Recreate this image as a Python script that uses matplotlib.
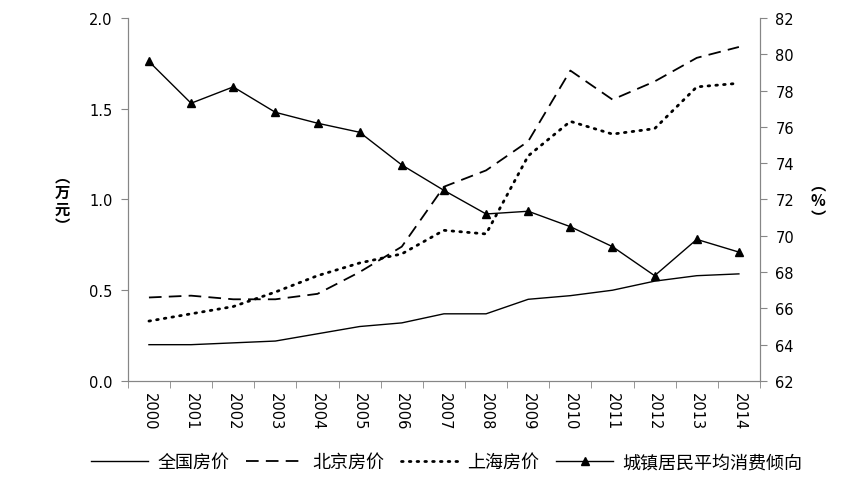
import matplotlib
matplotlib.use('Agg')
import matplotlib.pyplot as plt
import numpy as np

plt.rcParams['font.family'] = ['DejaVu Sans', 'Noto Sans CJK SC']

years = ['2000', '2001', '2002', '2003', '2004', '2005', '2006', '2007',
         '2008', '2009', '2010', '2011', '2012', '2013', '2014']
# house prices, 10k yuan / m2
national = [0.20, 0.20, 0.21, 0.22, 0.26, 0.30, 0.32, 0.37, 0.37, 0.45, 0.47, 0.50, 0.55, 0.58, 0.59]
beijing = [0.46, 0.47, 0.45, 0.45, 0.48, 0.60, 0.74, 1.07, 1.16, 1.32, 1.71, 1.55, 1.65, 1.78, 1.84]
shanghai = [0.33, 0.37, 0.41, 0.49, 0.58, 0.65, 0.70, 0.83, 0.81, 1.24, 1.43, 1.36, 1.39, 1.62, 1.64]
# urban average propensity to consume, %
propensity = [79.6, 77.3, 78.2, 76.8, 76.2, 75.7, 73.9, 72.5, 71.2, 71.35, 70.5, 69.4, 67.8, 69.8, 69.1]

names = ['全国房价', '北京房价', '上海房价', '城镇居民平均消费倾向']
cjk = ['Noto Sans CJK SC', 'DejaVu Sans']

x = np.arange(len(years))
grey = '#868686'

fig = plt.figure(figsize=(8.64, 4.85), dpi=100)
ax = fig.add_axes([0.148, 0.2124, 0.7316, 0.7486])
ax2 = ax.twinx()

l1, = ax.plot(x, national, color='black', lw=1.0)
l2, = ax.plot(x, beijing, color='black', lw=1.3, dashes=(7, 4))
l3, = ax.plot(x, shanghai, color='black', lw=2.0, linestyle=(0, (0.6, 2.2)), dash_capstyle='round')
l4, = ax2.plot(x, propensity, color='black', lw=1.0, marker='^', markersize=6)

ax.set_xlim(-0.5, len(years) - 0.5)
ax.set_ylim(0, 2.0)
ax.set_yticks([0, 0.5, 1.0, 1.5, 2.0])
ax.set_yticklabels(['0.0', '0.5', '1.0', '1.5', '2.0'])
ax2.set_ylim(62, 82)
ax2.set_yticks(range(62, 83, 2))

ax.set_xticks(x)
ax.set_xticklabels(years, rotation=-90)
ax.set_xticks(np.arange(-0.5, len(years), 1.0), minor=True)
ax.tick_params(axis='x', which='major', length=0, pad=8, labelsize=10.5)
ax.tick_params(axis='x', which='minor', length=5, color=grey, direction='out')
ax.tick_params(axis='y', length=5, color=grey, labelsize=10.5, pad=6)
ax2.tick_params(axis='y', length=5, color=grey, labelsize=10.5, pad=6)

for a in (ax, ax2):
    a.spines['top'].set_visible(False)
    for s in ('left', 'right', 'bottom'):
        a.spines[s].set_color(grey)

fig.text(0.072, 0.585, '︵\n万\n元\n︶', family=cjk, fontsize=11, fontweight='bold',
         ha='center', va='center', linespacing=1.05)
fig.text(0.947, 0.585, '︵\n%\n︶', family=cjk, fontsize=11, fontweight='bold',
         ha='center', va='center', linespacing=1.05)

leg = fig.legend([l1, l2, l3, l4], names, loc='center', bbox_to_anchor=(0.517, 0.045),
                 ncol=4, frameon=False, prop={'family': cjk, 'size': 13},
                 handlelength=3.15, columnspacing=0.95, handletextpad=0.5)

fig.savefig('out.png', dpi=100)
